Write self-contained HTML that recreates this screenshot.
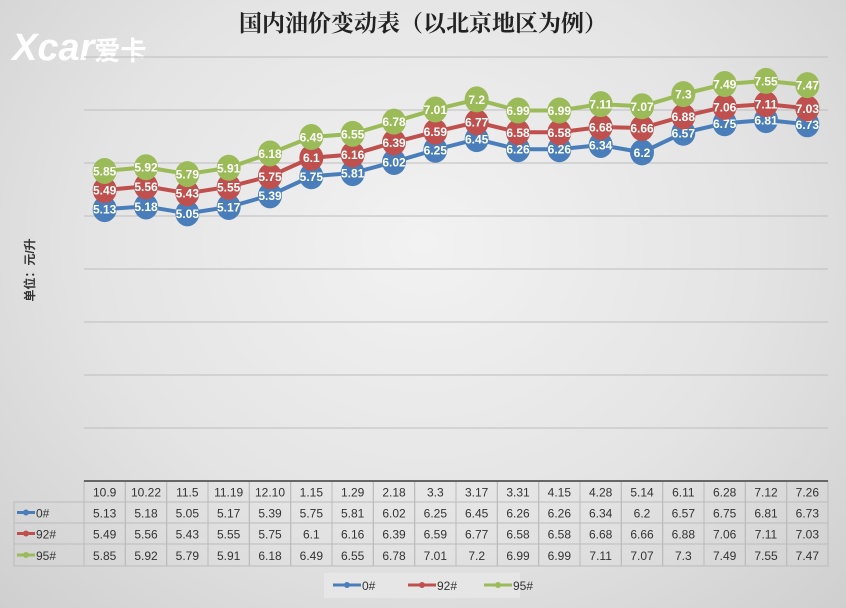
<!DOCTYPE html>
<html><head><meta charset="utf-8"><style>
body{margin:0;width:846px;height:608px;overflow:hidden;font-family:"Liberation Sans","Noto Sans CJK SC",sans-serif}
#bg{position:absolute;left:0;top:0;width:846px;height:608px;background:radial-gradient(ellipse at 50% 40%,#f2f2f2 0%,#e4e4e4 55%,#cfcfcf 100%)}
</style></head><body>
<div id="bg"></div>
<svg id="chart" width="846" height="608" style="position:absolute;left:0;top:0">
<text x="12" y="60" font-size="38" font-weight="bold" font-style="italic" fill="#fff" font-family="Liberation Sans,sans-serif">Xcar<tspan font-size="26" font-style="normal" font-family="Noto Sans CJK SC,sans-serif">爱卡</tspan></text>
<text x="423" y="31" text-anchor="middle" font-size="23" fill="#222" font-weight="bold" font-family="Noto Serif CJK SC,Noto Sans CJK SC,serif">国内油价变动表（以北京地区为例）</text>
<text transform="translate(34,270) rotate(-90)" text-anchor="middle" font-size="12" font-weight="bold" fill="#333">单位：元/升</text>
<g id="grid"></g><g id="series"></g><g id="table"></g><g id="legend"></g>
</svg>
<script>
const categories=["10.9","10.22","11.5","11.19","12.10","1.15","1.29","2.18","3.3","3.17","3.31","4.15","4.28","5.14","6.11","6.28","7.12","7.26"];
const s0=[5.13,5.18,5.05,5.17,5.39,5.75,5.81,6.02,6.25,6.45,6.26,6.26,6.34,6.2,6.57,6.75,6.81,6.73];
const s92=[5.49,5.56,5.43,5.55,5.75,6.1,6.16,6.39,6.59,6.77,6.58,6.58,6.68,6.66,6.88,7.06,7.11,7.03];
const s95=[5.85,5.92,5.79,5.91,6.18,6.49,6.55,6.78,7.01,7.2,6.99,6.99,7.11,7.07,7.3,7.49,7.55,7.47];
const seriesNames=["0#","92#","95#"];
const yTicks=[0,1,2,3,4,5,6,7,8];
const NS="http://www.w3.org/2000/svg";
const colors=["#4a7ebb","#c0504d","#9bbb59"];
const L=84,R=828,B=481,T=57,ymax=8;
const cw=(R-L)/categories.length;
const x=i=>L+cw*(i+0.5);
const y=v=>B-(B-T)*v/ymax;
function mk(tag,attrs,parent){const e=document.createElementNS(NS,tag);for(const k in attrs)e.setAttribute(k,attrs[k]);parent.appendChild(e);return e;}
const grid=document.getElementById('grid');
yTicks.forEach(t=>{const l=mk('line',{x1:L,x2:R,y1:y(t),y2:y(t),stroke:t===0?'#777':'#bdbdbd','stroke-width':t===0?2:1},grid);

});
const sg=document.getElementById('series');
[s0,s92,s95].forEach((d,si)=>{
 const p=mk('polyline',{points:d.map((v,i)=>x(i)+','+y(v)).join(' '),fill:'none',stroke:colors[si],'stroke-width':4},sg);
 
 
 d.forEach((v,i)=>{
  const c=mk('ellipse',{cx:x(i),cy:y(v),rx:12,ry:13,fill:colors[si]},sg);
  
  
  const t=mk('text',{x:x(i),y:y(v)+4.5,'text-anchor':'middle','font-size':12,'font-weight':'bold',fill:'#fff'},sg);
  t.textContent=v;
  
  
 });
});
const tb=document.getElementById('table');
const rows=[[481,502],[502,523],[523,544],[544,566]];
rows.forEach((r,ri)=>{
 for(let i=0;i<categories.length;i++){
  const rc=mk('rect',{x:L+cw*i,y:r[0],width:cw,height:r[1]-r[0],fill:'none',stroke:'#bbb'},tb);
  
  
  const val=ri===0?categories[i]:[s0,s92,s95][ri-1][i];
  const t=mk('text',{x:x(i),y:(r[0]+r[1])/2+5,'text-anchor':'middle','font-size':12,fill:'#333'},tb);
  t.textContent=val;
  
  
 }
 if(ri>0){
  const rc=mk('rect',{x:14,y:r[0],width:L-14,height:r[1]-r[0],fill:'none',stroke:'#bbb'},tb);
  
  
  const cy=(r[0]+r[1])/2;
  mk('line',{x1:17,x2:35,y1:cy,y2:cy,stroke:colors[ri-1],'stroke-width':3},tb);
  mk('circle',{cx:26,cy:cy,r:3,fill:colors[ri-1]},tb);
  const t=mk('text',{x:36,y:cy+5,'font-size':12,fill:'#333'},tb);
  t.textContent=seriesNames[ri-1];
  
  
 }
});
mk('line',{x1:L,x2:R,y1:B,y2:B,stroke:'#666','stroke-width':2},tb);
const lg=document.getElementById('legend');
const lb=mk('rect',{x:324,y:573,width:196,height:25,fill:'#e6e6e6'},lg);


[[333,0],[408,1],[484,2]].forEach(([lx,i])=>{
 mk('line',{x1:lx,x2:lx+28,y1:585,y2:585,stroke:colors[i],'stroke-width':3},lg);
 mk('circle',{cx:lx+14,cy:585,r:3,fill:colors[i]},lg);
 const t=mk('text',{x:lx+29,y:590,'font-size':12,fill:'#333'},lg);
 t.textContent=seriesNames[i];
 
 
});
</script>
</body></html>
